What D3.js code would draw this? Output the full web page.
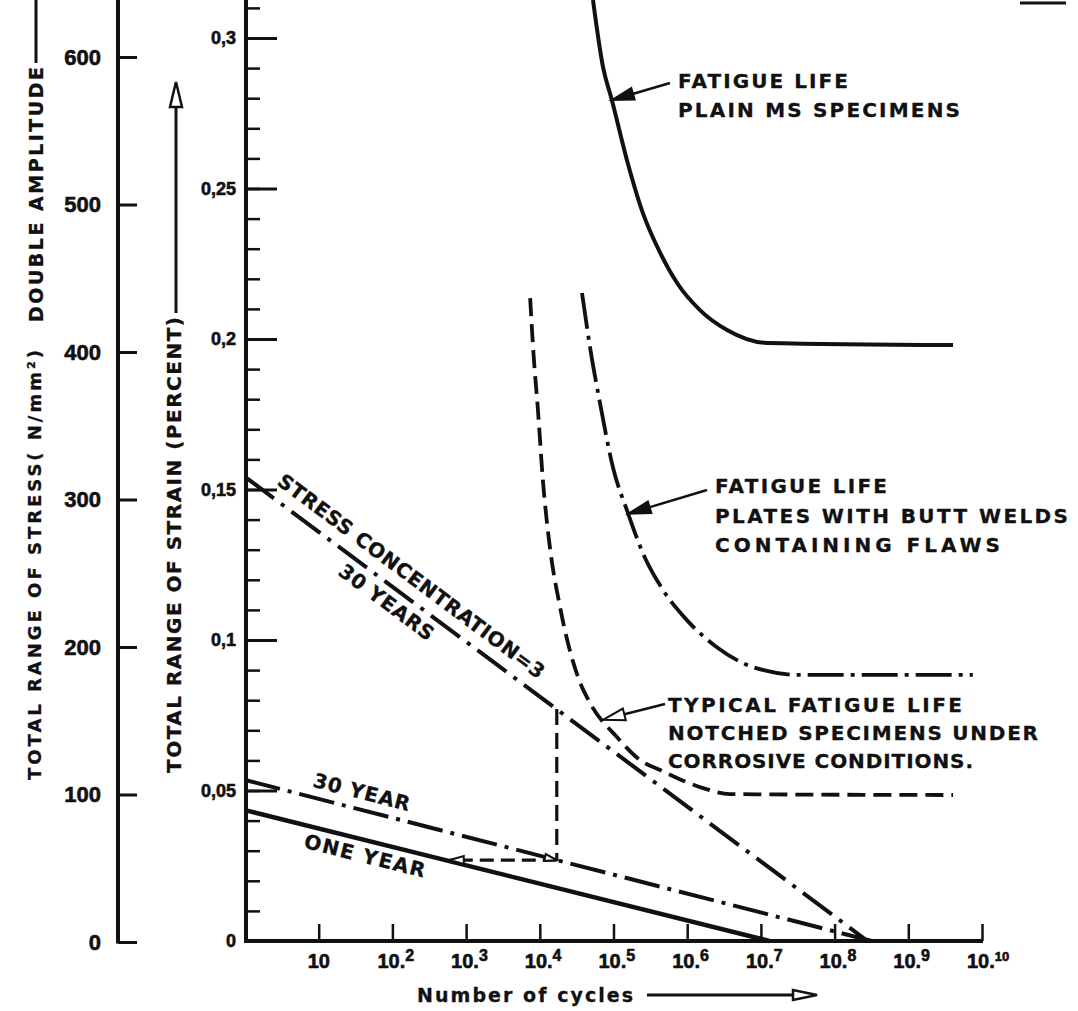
<!DOCTYPE html>
<html lang="en">

<head>
    <meta charset="UTF-8">
    <title>Fatigue life • strain range vs number of cycles</title>
    <script src="https://cdn.jsdelivr.net/npm/d3@7"></script>
    <style>
        body { margin: 0; background: #fff; }
        svg { display: block; }
        text { font-family: "Liberation Sans", Arial, sans-serif; font-weight: bold; fill: #111; stroke: #111; stroke-width: 0.6px; }
        text.letter { font-family: "DejaVu Sans", "Liberation Sans", sans-serif; stroke-width: 0.3px; }
    </style>
</head>

<body>
    <script>
        // axes
        var cycleTicks = [1e1, 1e2, 1e3, 1e4, 1e5, 1e6, 1e7, 1e8, 1e9, 1e10]
        var cycleExp = ["", "2", "3", "4", "5", "6", "7", "8", "9", "10"]
        var strainTicks = [0, 0.05, 0.1, 0.15, 0.2, 0.25, 0.3]
        var strainLabels = ["0", "0,05", "0,1", "0,15", "0,2", "0,25", "0,3"]
        var stressTicks = [0, 100, 200, 300, 400, 500, 600]

        // fatigue life, plain MS specimens (solid)
        var plainN = [5.27e4, 7.2e4, 9.5e4, 1.52e5, 2.5e5, 4.3e5, 7.3e5, 1.49e6, 3.47e6, 1.21e7, 4.05e9]
        var plainStrain = [0.3126, 0.2904, 0.2794, 0.2595, 0.2419, 0.2286, 0.2186, 0.2096, 0.2030, 0.1987, 0.1980]

        // fatigue life, plates with butt welds containing flaws (dash-dot)
        var weldN = [3.74e4, 4.8e4, 6.56e4, 9.8e4, 1.57e5, 2.5e5, 4.7e5, 9.9e5, 2.5e6, 7.8e6, 3.4e7, 7.5e9]
        var weldStrain = [0.2153, 0.1973, 0.1787, 0.1575, 0.1422, 0.1289, 0.1166, 0.1066, 0.0977, 0.0910, 0.0884, 0.0884]

        // typical fatigue life, notched specimens under corrosive conditions (dashed)
        var notchN = [7.4e3, 8.1e3, 9.5e3, 1.1e4, 1.37e4, 1.88e4, 3.3e4, 4.8e4, 1.11e5, 2.3e5, 4.3e5, 1.64e6, 3.8e6, 4.05e9]
        var notchStrain = [0.2136, 0.1973, 0.1754, 0.1532, 0.1309, 0.1110, 0.0877, 0.0791, 0.0678, 0.0601, 0.0568, 0.0508, 0.0488, 0.0485]

        // straight service lines
        var scN = [1, 2.8e8], scStrain = [0.1542, 0]          // stress concentration = 3, 30 years
        var yr30N = [1, 3.2e8], yr30Strain = [0.0535, 0]      // 30 year
        var yr1N = [1, 1.3e7], yr1Strain = [0.0435, 0]        // one year

        // construction lines at N = 1.7e4
        var markVN = [1.7e4, 1.7e4], markVStrain = [0.0771, 0.0269]
        var markHN = [1.7e4, 6e2], markHStrain = [0.0269, 0.0269]

        var ink = "#111"
        var svg = d3.select("body").append("svg").attr("width", 1078).attr("height", 1011)
        svg.append("rect").attr("width", 1078).attr("height", 1011).attr("fill", "#fff")

        var x = d3.scaleLog().domain([1, 1e10]).range([245, 982])
        var y = d3.scaleLinear().domain([0, 0.3]).range([941, 38])
        var stress = d3.scaleLinear().domain([0, 600]).range([942, 57])

        // ---- stress axis (far left)
        svg.append("line").attr("x1", 118).attr("x2", 118).attr("y1", 0).attr("y2", stress(0) + 1.5)
            .attr("stroke", ink).attr("stroke-width", 4)
        var gS = svg.append("g").attr("transform", "translate(118,0)")
            .call(d3.axisRight(stress).tickValues(stressTicks).tickSize(19).tickFormat(d3.format("d")))
        gS.select(".domain").remove()
        gS.selectAll(".tick line").attr("stroke", ink).attr("stroke-width", 3)
        gS.selectAll(".tick text").attr("x", -17).attr("text-anchor", "end").attr("font-size", 22)

        // ---- strain axis
        var ax = x(1) + 1
        svg.append("line").attr("x1", ax).attr("x2", ax).attr("y1", 0).attr("y2", y(0) + 2)
            .attr("stroke", ink).attr("stroke-width", 4)
        var gMinor = svg.append("g").attr("transform", "translate(" + ax + ",0)")
            .call(d3.axisRight(y).tickValues(d3.range(1, 32).map(d => d / 100)).tickSize(14).tickFormat(""))
        gMinor.select(".domain").remove()
        gMinor.selectAll(".tick line").attr("stroke", ink).attr("stroke-width", 2.5)
        var gY = svg.append("g").attr("transform", "translate(" + ax + ",0)")
            .call(d3.axisRight(y).tickValues(strainTicks).tickSize(31).tickFormat((d, i) => strainLabels[i]))
        gY.select(".domain").remove()
        gY.selectAll(".tick line").attr("stroke", ink).attr("stroke-width", 3)
        gY.selectAll(".tick text").attr("x", -10).attr("text-anchor", "end").attr("font-size", 18)

        // ---- cycles axis
        svg.append("line").attr("x1", ax).attr("x2", x(1e10) + 1).attr("y1", y(0)).attr("y2", y(0))
            .attr("stroke", ink).attr("stroke-width", 4)
        var gX = svg.append("g").attr("transform", "translate(0," + y(0) + ")")
            .call(d3.axisTop(x).tickValues(cycleTicks).tickSize(17).tickFormat(""))
        gX.select(".domain").remove()
        gX.selectAll(".tick line").attr("stroke", ink).attr("stroke-width", 2.5)
        var xl = svg.append("g").selectAll("text").data(cycleTicks).join("text")
            .attr("x", (d, i) => x(d) - (i == 0 ? 11 : 15)).attr("y", 968).attr("font-size", 20)
        xl.append("tspan").text("10")
        xl.filter((d, i) => i > 0).append("tspan").text(".")
        xl.filter((d, i) => i > 0).append("tspan").attr("dy", -7)
            .attr("font-size", (d, i) => i == 8 ? 13 : 16).text((d, i) => cycleExp[i + 1])

        // ---- axis titles
        svg.append("text").attr("class", "letter").attr("transform", "translate(41,780) rotate(-90)")
            .attr("font-size", 18).attr("textLength", 430).text("TOTAL RANGE OF STRESS( N/mm²)")
        svg.append("text").attr("class", "letter").attr("transform", "translate(43,322) rotate(-90)")
            .attr("font-size", 19).attr("textLength", 255).text("DOUBLE AMPLITUDE")
        svg.append("line").attr("x1", 36).attr("x2", 36).attr("y1", 63).attr("y2", 0)
            .attr("stroke", ink).attr("stroke-width", 3)

        svg.append("text").attr("class", "letter").attr("transform", "translate(181,773) rotate(-90)")
            .attr("font-size", 20).attr("textLength", 456).text("TOTAL RANGE OF STRAIN (PERCENT)")
        svg.append("line").attr("x1", 176).attr("x2", 176).attr("y1", 313).attr("y2", 106)
            .attr("stroke", ink).attr("stroke-width", 3)
        svg.append("path").attr("d", "M176,82 L182,107 L170,107 Z")
            .attr("fill", "#fff").attr("stroke", ink).attr("stroke-width", 2.5)

        svg.append("text").attr("class", "letter").attr("x", 417).attr("y", 1002).attr("font-size", 19)
            .attr("textLength", 216).text("Number of cycles")
        svg.append("line").attr("x1", 647).attr("x2", 794).attr("y1", 995).attr("y2", 995)
            .attr("stroke", ink).attr("stroke-width", 3)
        svg.append("path").attr("d", "M817,995 L793,990 L793,1000 Z")
            .attr("fill", "#fff").attr("stroke", ink).attr("stroke-width", 2.5)

        // scrap of the figure above, cut by the page edge
        svg.append("line").attr("x1", 1020).attr("x2", 1066).attr("y1", 3).attr("y2", 3)
            .attr("stroke", ink).attr("stroke-width", 3)

        // ---- curves
        var curve = d3.line().x(d => x(d[0])).y(d => y(d[1])).curve(d3.curveMonotoneX)
        var straight = d3.line().x(d => x(d[0])).y(d => y(d[1]))

        function draw(gen, N, S, width, dash) {
            return svg.append("path").attr("d", gen(d3.zip(N, S))).attr("fill", "none")
                .attr("stroke", ink).attr("stroke-width", width)
                .attr("stroke-dasharray", dash || null).attr("stroke-linejoin", "round")
        }

        draw(curve, plainN, plainStrain, 4)
        draw(curve, weldN, weldStrain, 3.8, "36,7,4,7")
        draw(curve, notchN, notchStrain, 3.8, "18,8")
        draw(straight, scN, scStrain, 4, "36,9,4,9")
        draw(straight, yr30N, yr30Strain, 4, "36,8,4,8")
        draw(straight, yr1N, yr1Strain, 4.5)
        draw(straight, markVN, markVStrain, 3.2, "16,8")
        draw(straight, markHN, markHStrain, 3.2, "14,7")

        // arrow heads
        function head(tx, ty, fx, fy, len, hw, open) {
            var dx = tx - fx, dy = ty - fy, l = Math.hypot(dx, dy)
            var ux = dx / l, uy = dy / l
            var bx = tx - ux * len, by = ty - uy * len
            var p = [[tx, ty], [bx - uy * hw, by + ux * hw], [bx + uy * hw, by - ux * hw]]
            return svg.append("path").attr("d", "M" + p.join("L") + "Z")
                .attr("fill", open ? "#fff" : ink).attr("stroke", ink).attr("stroke-width", 2)
        }
        head(x(markHN[1]), y(markHStrain[1]), x(markHN[0]), y(markHStrain[0]), 14, 4, true)
        head(x(markVN[1]), y(markVStrain[1]), x(markVN[1]) - 14, y(markVStrain[1]) - 3, 12, 3.5, true)

        // ---- annotations
        function pointer(fx, fy, tx, ty, open) {
            var dx = tx - fx, dy = ty - fy, l = Math.hypot(dx, dy)
            svg.append("line").attr("x1", fx).attr("y1", fy)
                .attr("x2", tx - dx / l * 18).attr("y2", ty - dy / l * 18)
                .attr("stroke", ink).attr("stroke-width", 2.5)
            head(tx, ty, fx, fy, 22, 6, open)
        }
        pointer(670, 83, x(9.5e4), y(0.2794), false)
        pointer(707, 490, x(1.6e5), y(0.1420), false)
        pointer(665, 704, x(7.2e4), y(0.0735), true)

        function label(tx, ty, lines, gap, lengths) {
            lines.forEach((t, i) => {
                svg.append("text").attr("class", "letter").attr("x", tx).attr("y", ty + i * gap)
                    .attr("font-size", 20).attr("textLength", lengths[i]).text(t)
            })
        }
        label(678, 88, ["FATIGUE LIFE", "PLAIN MS SPECIMENS"], 29, [170, 282])
        label(715, 493, ["FATIGUE LIFE", "PLATES WITH BUTT WELDS", "CONTAINING FLAWS"], 29.5, [172, 353, 285])
        label(668, 712, ["TYPICAL FATIGUE LIFE", "NOTCHED SPECIMENS UNDER", "CORROSIVE CONDITIONS."], 28, [294, 370, 305])

        // text along the straight lines
        function slope(N, S) {
            return Math.atan2(y(S[1]) - y(S[0]), x(N[1]) - x(N[0])) * 180 / Math.PI
        }
        function along(tx, ty, ang, t, len) {
            svg.append("text").attr("class", "letter")
                .attr("transform", "translate(" + tx + "," + ty + ") rotate(" + ang + ")")
                .attr("font-size", 20).attr("textLength", len).text(t)
        }
        along(276, 484, slope(scN, scStrain), "STRESS CONCENTRATION=3", 327)
        along(337, 574, slope(scN, scStrain), "30 YEARS", 113)
        along(312, 786.5, slope(yr30N, yr30Strain), "30 YEAR", 99)
        along(303, 847.5, slope(yr1N, yr1Strain), "ONE YEAR", 124)
    </script>
</body>

</html>
